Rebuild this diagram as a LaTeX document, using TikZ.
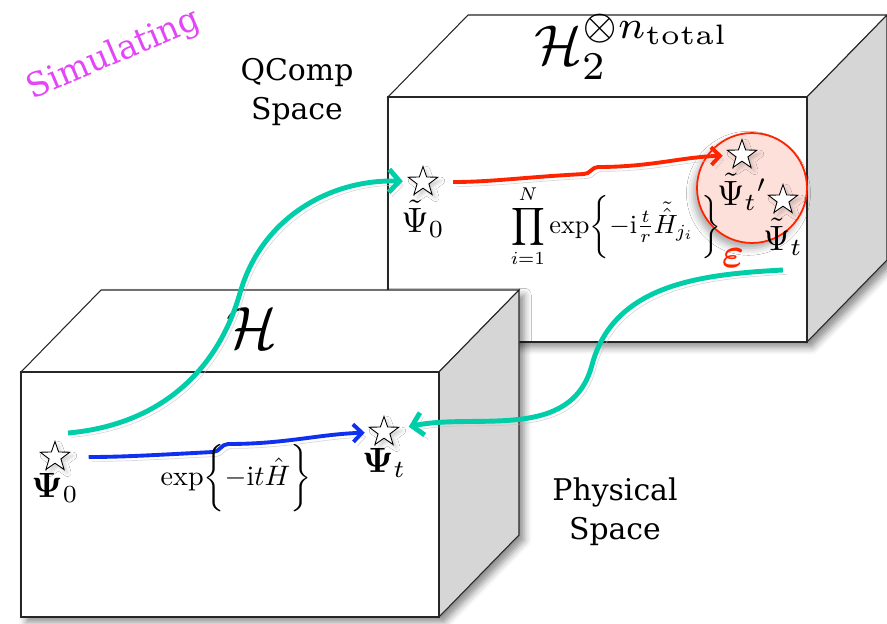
\documentclass[tikz,border=0pt]{standalone}
\usepackage{amsmath, amssymb}
\usepackage{fontspec}
\newfontfamily\labelfont{DejaVu Serif}
\usepackage{tikz}
\usetikzlibrary{
  arrows.meta,
  calc,
  positioning,
  shapes.geometric,
  shadows.blur
}
\definecolor{tealline}{RGB}{0,206,168}
\definecolor{redline}{RGB}{255,36,0}
\definecolor{blueline}{RGB}{16,48,240}
\definecolor{simcolor}{RGB}{226,70,246}
\definecolor{sidegray}{RGB}{214,214,214}
\definecolor{ballfill}{RGB}{253,224,218}

\begin{document}
\begin{tikzpicture}[
  x=0.02cm, y=-0.02cm,
  face/.style={draw=black!85, line width=0.6pt, fill=white},
  sideface/.style={draw=black!85, line width=0.6pt, fill=sidegray},
  cubeshadow/.style={fill=white, blur shadow={shadow xshift=3pt, shadow yshift=-3pt, shadow blur radius=4pt, shadow opacity=45}},
  state/.style={star, star points=5, star point ratio=2.5, draw, fill=white, minimum size=0.62cm, inner sep=0pt, line width=0.5pt,
    blur shadow={shadow xshift=2pt, shadow yshift=-2pt, shadow blur radius=2pt, shadow opacity=18}},
  statelabel/.style={scale=2, inner sep=0.5pt},
  spacelabel/.style={font=\labelfont\fontsize{17}{22}\selectfont, align=center},
  evolve/.style={line width=2.2pt, -{Straight Barb[length=5pt, width=10pt]},
    preaction={draw=black!25, opacity=0.6, transform canvas={shift={(2pt,-2.5pt)}}}},
  encode/.style={line width=2.8pt, color=tealline, -{Straight Barb[length=6pt, width=13pt]},
    preaction={draw=black!25, opacity=0.6, transform canvas={shift={(2pt,-2.5pt)}}}},
]
\useasboundingbox (0,0) rectangle (887,623);

% QComp cube
\path[cubeshadow] (388,97) -- (468,15) -- (887,15) -- (887,260) -- (807,342) -- (388,342) -- cycle;
\draw[face] (388,97) -- (468,15) -- (887,15) -- (807,97) -- cycle;
\draw[sideface] (807,97) -- (887,15) -- (887,260) -- (807,342) -- cycle;
\draw[face] (388,97) rectangle (807,342);

\node[scale=3.2] (hqcomp) at (633,47) {$\mathcal{H}_2^{\otimes n_{\mathrm{total}}}$};

% error ball
\node[circle, draw=redline, line width=1pt, fill=ballfill, minimum size=2.2cm,
  blur shadow={shadow xshift=-2pt, shadow yshift=-3pt, shadow blur radius=4pt, shadow opacity=35}] (ball) at (752,188) {};

% QComp states
\node[state] (qpsi0) at (423,182) {};
\node[statelabel, below=5pt of qpsi0] (qpsi0lab) {$\tilde{\Psi}_0$};
\node[state] (qpsitp) at (742,155) {};
\node[statelabel, below=5pt of qpsitp] (qpsitplab) {$\tilde{\Psi}_t{}'$};
\node[state] (qpsit) at (783,200) {};
\node[statelabel, below=5pt of qpsit] (qpsitlab) {$\tilde{\Psi}_t$};
\node[scale=2.4, text=redline] (eps) at (733,258) {$\boldsymbol{\varepsilon}$};

% simulated evolution
\coordinate (qkinkL) at (584,174);
\coordinate (qkinkR) at (598,167);
\draw[evolve, redline, shorten <=12pt, shorten >=6pt] (qpsi0) to[out=0, in=183] (qkinkL)
  to[out=0, in=180] (qkinkR) to[out=0, in=182] (qpsitp);
\node[scale=1.5] (prodlab) at (616,226) {$\displaystyle\prod_{i=1}^{N}\exp\biggl\{-\mathrm{i}\tfrac{t}{r}\tilde{\hat{H}}_{j_i}\;\biggr\}$};

\node[spacelabel] (qcomplab) at (297,92) {QComp\\Space};

% Physical cube
\path[cubeshadow] (21,372) -- (101,290) -- (519,290) -- (519,535) -- (439,617) -- (21,617) -- cycle;
\draw[face] (21,372) -- (101,290) -- (519,290) -- (439,372) -- cycle;
\draw[sideface] (439,372) -- (519,290) -- (519,535) -- (439,617) -- cycle;
\draw[face] (21,372) rectangle (439,617);

\node[scale=3.4] (hphys) at (252,328) {$\mathcal{H}$};

% Physical states
\node[state] (psi0) at (55,457) {};
\node[statelabel, below=4pt of psi0] (psi0lab) {$\boldsymbol{\Psi}_0$};
\node[state] (psit) at (384,432) {};
\node[statelabel, below=4pt of psit] (psitlab) {$\boldsymbol{\Psi}_t$};

% exact evolution
\coordinate (pkinkL) at (213,452);
\coordinate (pkinkR) at (228,444);
\draw[evolve, blueline, shorten <=14pt, shorten >=6pt] (psi0) to[out=0, in=183] (pkinkL)
  to[out=0, in=180] (pkinkR) to[out=0, in=182] (psit);
\node[scale=1.6] (explab) at (236,478) {$\exp\biggl\{-\mathrm{i}t\hat{H}\biggr\}$};

% encoding and decoding
\coordinate (encstart) at (68,433);
\coordinate (encmid) at (240,293);
\draw[encode, shorten >=6pt] (encstart) to[out=5, in=-106] (encmid) to[out=74, in=178] (qpsi0);
\coordinate (decstart) at (783,270);
\coordinate (decmid) at (592,365);
\draw[encode, shorten >=7pt] (decstart) to[out=183, in=75] (decmid) to[out=-105, in=12] (psit);

\node[spacelabel] (physlab) at (615,512) {Physical\\Space};
\node[rotate=23, inner sep=1pt, font=\labelfont\fontsize{19}{22}\selectfont, text=simcolor] (simlab) at (114,55) {Simulating};
\end{tikzpicture}
\end{document}
